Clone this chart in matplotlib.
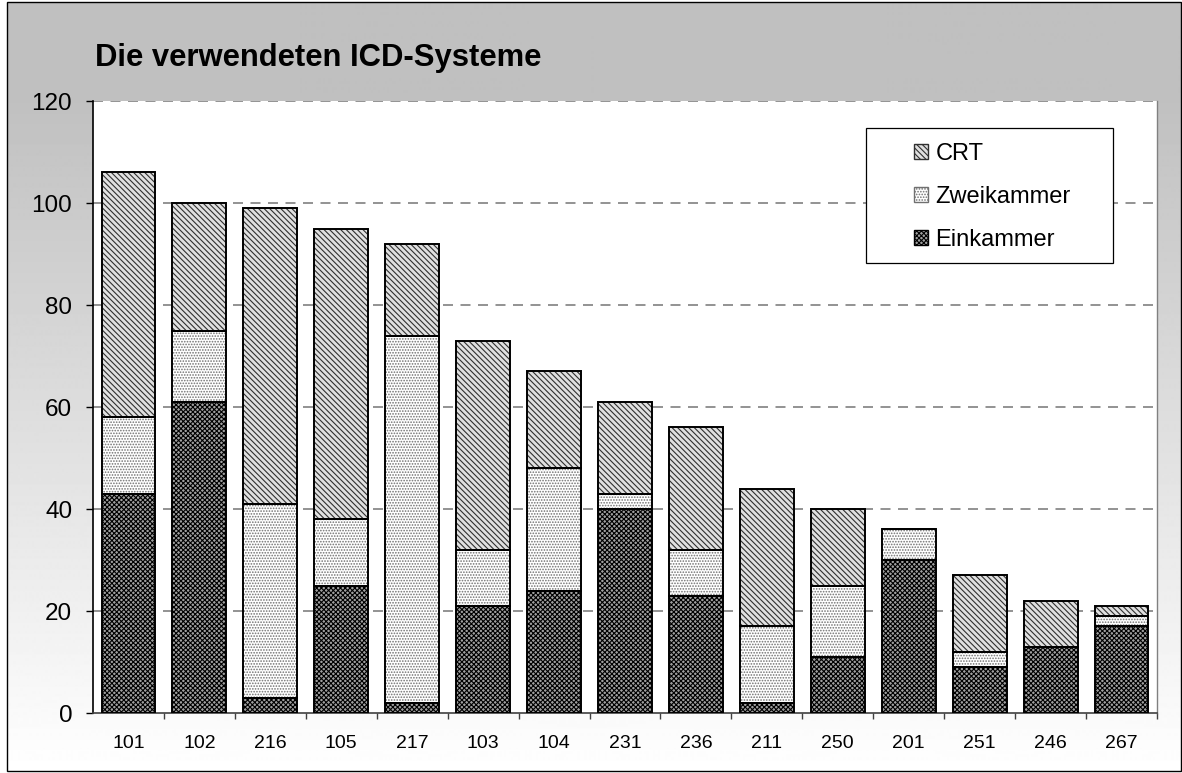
import numpy as np
import matplotlib
matplotlib.use("Agg")
import matplotlib.pyplot as plt
from matplotlib.patches import Rectangle, Patch

plt.rcParams["font.family"] = ["Liberation Sans", "DejaVu Sans"]
plt.rcParams["hatch.linewidth"] = 0.8

# data
centers = ["101", "102", "216", "105", "217", "103", "104", "231",
           "236", "211", "250", "201", "251", "246", "267"]
einkammer = [43, 61, 3, 25, 2, 21, 24, 40, 23, 2, 11, 30, 9, 13, 17]
zweikammer = [15, 14, 38, 13, 72, 11, 24, 3, 9, 15, 14, 6, 3, 0, 2]
crt = [48, 25, 58, 57, 18, 41, 19, 18, 24, 27, 15, 0, 15, 9, 2]

series = [
    ("Einkammer", einkammer, "#a0a0a0", "#000000", "xxxxxxx"),
    ("Zweikammer", zweikammer, "#ffffff", "#707070", "......"),
    ("CRT", crt, "#e0e0e0", "#303030", "\\\\\\\\\\\\"),
]

W, H = 1182, 773
fig = plt.figure(figsize=(W / 100, H / 100), dpi=100)
fig.patch.set_facecolor("white")

# gradient background inside the outer frame
bx0, by0, bx1, by1 = 7, 2, 1181, 771
bg = fig.add_axes([bx0 / W, 1 - by1 / H, (bx1 - bx0) / W, (by1 - by0) / H], zorder=0)
rows = np.arange(by0, by1)
vals = np.where(rows < 100, 0.753, 0.753 + 0.247 * (rows - 100) / (by1 - 100))
grad = np.repeat(vals[:, None], 2, axis=1)
bg.imshow(grad, cmap="gray", vmin=0, vmax=1, aspect="auto", extent=[0, 1, 0, 1])
bg.set_axis_off()
fig.add_artist(Rectangle((bx0 / W, 1 - by1 / H), (bx1 - bx0) / W, (by1 - by0) / H,
                         transform=fig.transFigure, fill=False, edgecolor="black",
                         linewidth=1.0, zorder=5))

ax = fig.add_axes([93 / W, 1 - 713 / H, (1157 - 93) / W, (713 - 101) / H], zorder=1)
ax.set_facecolor("white")

x = np.arange(len(centers))
width = 0.76
bottom = np.zeros(len(centers))
handles = []
for name, vals_s, fc, hc, hatch in series:
    v = np.array(vals_s, dtype=float)
    # hatch layer
    ax.bar(x, v, width, bottom=bottom, color=fc, edgecolor=hc, hatch=hatch,
           linewidth=0, zorder=3)
    # outline
    ax.bar(x, v, width, bottom=bottom, fill=False, edgecolor="black",
           linewidth=1.4, zorder=4)
    handles.append(Patch(facecolor=fc, edgecolor=hc, hatch=hatch, label=name))
    bottom += v

ax.set_xlim(-0.5, len(centers) - 0.5)
ax.set_ylim(0, 120)
ax.set_yticks(np.arange(0, 121, 20))
ax.set_xticks(x)
ax.set_xticklabels(centers)
ax.set_xticks(np.arange(0.5, len(centers) - 0.5 + 1), minor=True)
ax.tick_params(axis="x", which="major", length=0, pad=16, labelsize=14)
ax.tick_params(axis="x", which="minor", length=4.5, width=1, direction="out",
               color="#404040")
ax.tick_params(axis="y", length=5, width=1, direction="out", pad=10, labelsize=17.5)

for yv in np.arange(20, 121, 20):
    ax.axhline(yv, color="#808080", linewidth=1.2, linestyle=(0, (6, 4.5)), zorder=1)

ax.spines["top"].set_visible(False)
ax.spines["right"].set_color("#808080")
ax.spines["right"].set_linewidth(1.0)
ax.spines["left"].set_linewidth(1.2)
ax.spines["bottom"].set_linewidth(1.2)
ax.spines["bottom"].set_color("#404040")

fig.text(95 / W, 1 - 58 / H, "Die verwendeten ICD-Systeme", fontsize=22.3,
         fontweight="bold", ha="left", va="center", zorder=6)

# legend box
lx0, ly0, lx1, ly1 = 866, 128, 1113, 263
fig.add_artist(Rectangle((lx0 / W, 1 - ly1 / H), (lx1 - lx0) / W, (ly1 - ly0) / H,
                         transform=fig.transFigure, facecolor="white",
                         edgecolor="black", linewidth=0.9, zorder=6))
leg = fig.legend(handles=handles[::-1], loc="upper left",
                 bbox_to_anchor=(893 / W, 1 - 122 / H), frameon=False,
                 fontsize=17, handlelength=0.6, handleheight=0.6,
                 handletextpad=0.3, labelspacing=0.88)
leg.set_zorder(7)

fig.savefig("out.png", dpi=100)
